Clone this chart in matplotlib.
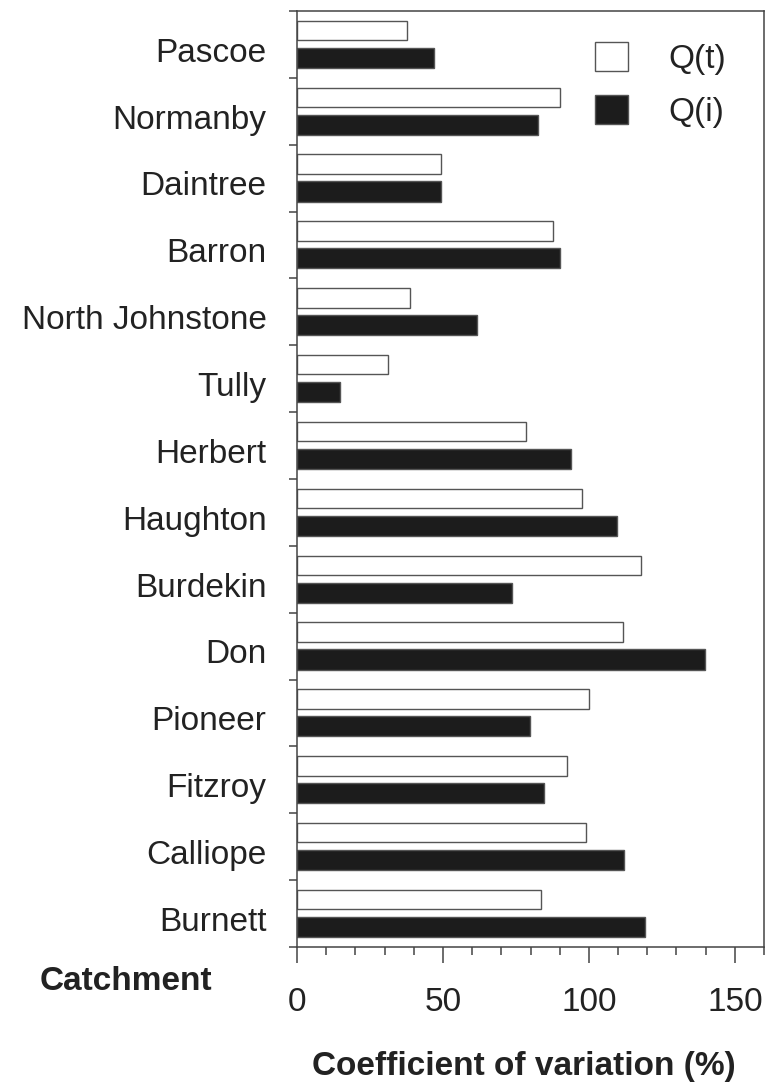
import numpy as np
import matplotlib.pyplot as plt
from matplotlib.patches import Patch
from matplotlib.ticker import MultipleLocator

plt.rcParams['font.family'] = ['Liberation Sans', 'DejaVu Sans']

catchments = ["Pascoe", "Normanby", "Daintree", "Barron", "North Johnstone", "Tully",
              "Herbert", "Haughton", "Burdekin", "Don", "Pioneer", "Fitzroy",
              "Calliope", "Burnett"]
q_t = [37.6, 90.2, 49.3, 87.6, 38.8, 31.3, 78.5, 97.7, 118.0, 111.8, 100.1, 92.6, 98.9, 83.6]
q_i = [46.8, 82.7, 49.3, 90.2, 61.7, 14.6, 94.0, 109.5, 73.5, 139.8, 79.7, 84.7, 111.9, 119.4]

W, H = 765, 1084
fig = plt.figure(figsize=(W / 100, H / 100), dpi=100)
ax = fig.add_axes([297 / W, 1 - 947 / H, (764 - 297) / W, (947 - 11) / H])

txt = '#222222'
edge = '#555555'
fs = 24
n = len(catchments)
yc = np.arange(n)[::-1].astype(float)   # Pascoe at top

ax.barh(yc + 0.21, q_t, height=0.29, color='white', edgecolor=edge, linewidth=1.0)
ax.barh(yc - 0.20, q_i, height=0.30, color='#1c1c1c', edgecolor=edge, linewidth=1.0)

ax.set_xlim(0, 160)
ax.set_ylim(-0.5, n - 0.5)

# x axis
ax.set_xticks([0, 50, 100, 150])
ax.xaxis.set_minor_locator(MultipleLocator(10))
ax.tick_params(axis='x', which='major', direction='out', length=11.5, width=1.1,
               color='#444444', labelsize=fs, labelcolor=txt, pad=17)
ax.tick_params(axis='x', which='minor', direction='out', length=5.8, width=1.1,
               color='#444444')

# y axis: labels at group centres, short ticks at group boundaries
ax.set_yticks(yc - 0.08)
ax.set_yticklabels(catchments)
ax.set_yticks(np.arange(-0.5, n, 1.0), minor=True)
ax.tick_params(axis='y', which='major', length=0, labelsize=fs, labelcolor=txt, pad=22)
ax.tick_params(axis='y', which='minor', direction='out', length=5.8, width=1.1,
               color='#444444')

for s in ax.spines.values():
    s.set_color('#444444')
    s.set_linewidth(1.1)

fig.text(40 / W, 1 - 990 / H, 'Catchment', fontsize=fs, fontweight='bold',
         color=txt, ha='left', va='baseline')
fig.text(524 / W, 1 - 1075 / H, 'Coefficient of variation (%)', fontsize=fs,
         fontweight='bold', color=txt, ha='center', va='baseline')

handles = [Patch(facecolor='white', edgecolor=edge, linewidth=1.0),
           Patch(facecolor='#1c1c1c', edgecolor=edge, linewidth=1.0)]
ax.legend(handles, ['Q(t)', 'Q(i)'], loc='upper left', frameon=False,
          bbox_to_anchor=(595 / W, 1 - 42 / H), bbox_transform=fig.transFigure,
          borderpad=0, borderaxespad=0, fontsize=fs, handlelength=1.0,
          handleheight=0.95, handletextpad=1.2, labelspacing=0.62, labelcolor=txt)

fig.savefig('out.png', dpi=100)
